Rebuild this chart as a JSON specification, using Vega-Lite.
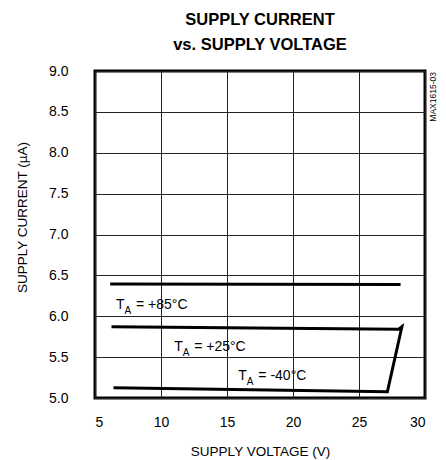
{
  "$schema": "https://vega.github.io/schema/vega-lite/v6.json",
  "width": 330,
  "height": 327,
  "autosize": "none",
  "padding": {"left": 95, "top": 71, "right": 21, "bottom": 62},
  "background": "white",
  "title": {
    "text": ["SUPPLY CURRENT", "vs. SUPPLY VOLTAGE"],
    "font": "Liberation Sans",
    "fontSize": 16.5,
    "fontWeight": "bold",
    "color": "black",
    "anchor": "middle",
    "lineHeight": 25,
    "offset": 11
  },
  "config": {
    "view": {"stroke": "black", "strokeWidth": 3},
    "axis": {
      "grid": true,
      "gridColor": "#222",
      "gridWidth": 1,
      "gridOpacity": 1,
      "domain": false,
      "ticks": false,
      "labelFont": "Liberation Sans",
      "labelFontSize": 14,
      "labelColor": "black",
      "titleFont": "Liberation Sans",
      "titleFontSize": 13.5,
      "titleFontWeight": "normal",
      "titleColor": "black"
    }
  },
  "datasets": {
    "curves": [
      {"series": "85", "ord": 1, "v": 6.15, "i": 6.395},
      {"series": "85", "ord": 2, "v": 28.15, "i": 6.387},
      {"series": "25to-40", "ord": 1, "v": 6.25, "i": 5.872},
      {"series": "25to-40", "ord": 2, "v": 28.0, "i": 5.842},
      {"series": "25to-40", "ord": 3, "v": 28.25, "i": 5.872},
      {"series": "25to-40", "ord": 4, "v": 27.15, "i": 5.077},
      {"series": "25to-40", "ord": 5, "v": 6.4, "i": 5.126}
    ],
    "labels": [
      {"v": 6.59, "i": 6.085, "rest": "= +85°C"},
      {"v": 11.0, "i": 5.58, "rest": "= +25°C"},
      {"v": 15.86, "i": 5.22, "rest": "= -40°C"}
    ],
    "note": [{"v": 30, "i": 9, "txt": "MAX1615-03"}]
  },
  "layer": [
    {
      "data": {"name": "curves"},
      "mark": {"type": "line", "color": "black", "strokeWidth": 3},
      "encoding": {
        "x": {
          "field": "v", "type": "quantitative",
          "scale": {"domain": [5, 30], "nice": false, "zero": false},
          "axis": {"values": [5, 10, 15, 20, 25, 30], "title": "SUPPLY VOLTAGE (V)",
                   "labelPadding": 17, "titleX": 165, "titleY": 53, "titleBaseline": "middle", "titleAlign": "center"}
        },
        "y": {
          "field": "i", "type": "quantitative",
          "scale": {"domain": [5, 9], "nice": false, "zero": false},
          "axis": {"values": [5, 5.5, 6, 6.5, 7, 7.5, 8, 8.5, 9], "format": ".1f", "title": "SUPPLY CURRENT (µA)",
                   "labelPadding": 27, "titleX": -73, "titleY": 146, "titleAngle": -90, "titleBaseline": "middle", "titleAlign": "center"}
        },
        "detail": {"field": "series"},
        "order": {"field": "ord"}
      }
    },
    {
      "data": {"name": "labels"},
      "mark": {"type": "text", "text": "T", "align": "left", "baseline": "alphabetic", "font": "Liberation Sans", "fontSize": 14, "color": "black"},
      "encoding": {"x": {"field": "v", "type": "quantitative"}, "y": {"field": "i", "type": "quantitative"}}
    },
    {
      "data": {"name": "labels"},
      "mark": {"type": "text", "text": "A", "align": "left", "baseline": "alphabetic", "dx": 8.5, "dy": 5, "font": "Liberation Sans", "fontSize": 10, "color": "black"},
      "encoding": {"x": {"field": "v", "type": "quantitative"}, "y": {"field": "i", "type": "quantitative"}}
    },
    {
      "data": {"name": "labels"},
      "mark": {"type": "text", "align": "left", "baseline": "alphabetic", "dx": 20, "font": "Liberation Sans", "fontSize": 14, "color": "black"},
      "encoding": {"x": {"field": "v", "type": "quantitative"}, "y": {"field": "i", "type": "quantitative"}, "text": {"field": "rest"}}
    },
    {
      "data": {"name": "note"},
      "mark": {"type": "text", "angle": 270, "align": "right", "baseline": "middle", "dx": -1, "dy": 8, "font": "Liberation Sans", "fontSize": 8.5, "color": "black"},
      "encoding": {"x": {"field": "v", "type": "quantitative"}, "y": {"field": "i", "type": "quantitative"}, "text": {"field": "txt"}}
    }
  ]
}
